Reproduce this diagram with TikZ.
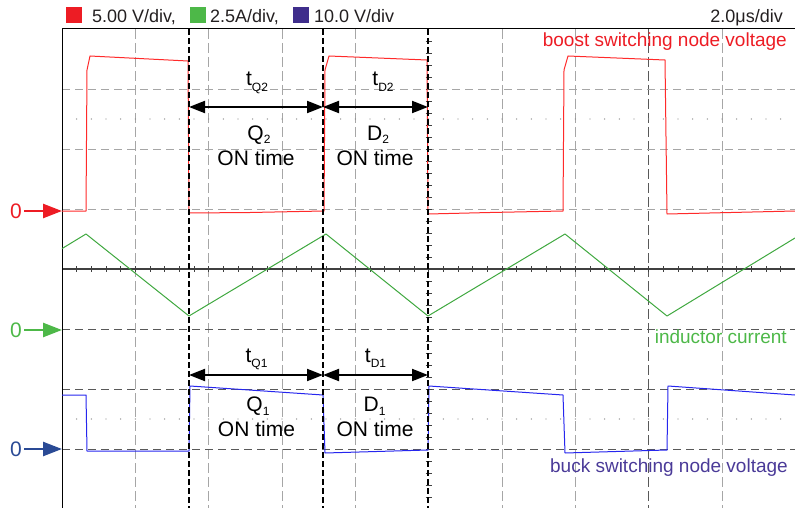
\documentclass[tikz,border=0pt]{standalone}
\usepackage{fontspec}
\setmainfont{Liberation Sans}
\usetikzlibrary{arrows.meta}
\definecolor{lgred}{HTML}{ED1C24}
\definecolor{lggreen}{HTML}{4DB848}
\definecolor{lgpurple}{HTML}{3F2E8C}
\definecolor{txpurple}{HTML}{4A3A98}
\definecolor{mkblue}{HTML}{2A4A95}
\definecolor{trred}{HTML}{FF2A2A}
\definecolor{trgreen}{HTML}{3FA83F}
\definecolor{trblue}{HTML}{2626EE}
\definecolor{txdark}{HTML}{231F20}
\newcommand\mysubfont{\fontsize{12}{12}\selectfont}
\begin{document}
\begin{tikzpicture}[x=1pt,y=-1pt,
  vgrid/.style={draw=black!35, line width=0.9pt, dash pattern=on 10pt off 4pt},
  vgriddark/.style={draw=black!65, line width=0.9pt, dash pattern=on 10pt off 4pt},
  hgrid/.style={draw=black!35, line width=0.9pt, dash pattern=on 8pt off 5pt},
  hgriddark/.style={draw=black!65, line width=1pt, dash pattern=on 8pt off 5pt},
  tdash/.style={draw=black, line width=2pt, dash pattern=on 6pt off 3pt},
  dimarrow/.style={draw=black, line width=2pt, {Triangle[length=16pt,width=12pt]}-{Triangle[length=16pt,width=12pt]}},
  zeroarrow/.style={line width=2.5pt, -{Triangle[length=19pt,width=14pt]}},
  legtext/.style={font=\fontsize{18}{20}\selectfont, text=txdark, anchor=base west, inner sep=0pt},
  tracelbl/.style={font=\fontsize{19}{22}\selectfont, anchor=base east, inner sep=0pt},
  lbl/.style={font=\fontsize{21}{24}\selectfont, text=black, anchor=base, inner sep=0pt},
  zerolbl/.style={font=\fontsize{21}{23}\selectfont, anchor=west, inner sep=2pt},
  trace/.style={line width=1pt, line join=round}
]
\useasboundingbox (0,0) rectangle (795,508);

% grid
\foreach \x in {135.33,208.67,282,355.33,502,575.33,722}
  \draw[vgrid] (\x,29) -- (\x,508);
\draw[vgriddark] (648.67,29) -- (648.67,508);
\foreach \y in {89,149,209}
  \draw[hgrid] (62,\y) -- (795,\y);
\foreach \y in {329,389,449}
  \draw[hgriddark] (62,\y) -- (795,\y);
% dotted rows
\foreach \k in {1,...,49} {
  \fill[black!45] ({62+\k*14.667},119) circle (0.7);
  \fill[black!45] ({62+\k*14.667},419) circle (0.7);
}
% center axes with ticks
\draw[black!75, line width=1.1pt] (62,269) -- (795,269);
\foreach \k in {1,...,49}
  \draw[black!75, line width=0.9pt] ({62+\k*14.667},266) -- ++(0,6);
\foreach \k in {1,...,39}
  \draw[black!75, line width=0.9pt] (425.67,{29+\k*12}) -- ++(6,0);

% frame
\draw[black, line width=1pt] (62,508) -- (62,29) -- (795,29);

% traces
\draw[trace, trred] (62,211) -- (86,211) -- (87,70) -- (90,56) -- (188,61) -- (189,213)
  -- (250,212.5) -- (324,211) -- (325,70) -- (329,56) -- (427,60) -- (428,214)
  -- (490,212.5) -- (563,211) -- (564,70) -- (568,56) -- (665,60) -- (667,214) -- (795,211);
\draw[trace, trgreen] (62,248.6) -- (86,234) -- (189,316) -- (326,234) -- (428,316)
  -- (565,234) -- (667,316) -- (795,238);
\draw[trace, trblue] (62,395) -- (86,395) -- (87,451) -- (189,451) -- (190,386)
  -- (323,395) -- (325,453) -- (428,450) -- (429,386) -- (563,395) -- (565,453)
  -- (667,450) -- (668,386) -- (795,395);

% thick dashed timing lines
\coordinate (d1t) at (189,29);  \coordinate (d1b) at (189,508);
\coordinate (d2t) at (323,29);  \coordinate (d2b) at (323,508);
\coordinate (d3t) at (428,29);  \coordinate (d3b) at (428,508);
\draw[tdash] (d1t) -- (d1b);
\draw[tdash] (d2t) -- (d2b);
\draw[tdash] (d3t) -- (d3b);

% dimension arrows
\coordinate (a1) at (189,107); \coordinate (a2) at (323,107); \coordinate (a3) at (428,107);
\coordinate (b1) at (189,375); \coordinate (b2) at (323,375); \coordinate (b3) at (428,375);
\draw[dimarrow] (a1) -- (a2);
\draw[dimarrow] (a2) -- (a3);
\draw[dimarrow] (b1) -- (b2);
\draw[dimarrow] (b2) -- (b3);

% annotation labels
\node[lbl] (tq2) at (257,86) {t\raisebox{-6pt}{\mysubfont Q2}};
\node[lbl] (td2) at (383,86) {t\raisebox{-6pt}{\mysubfont D2}};
\node[lbl] (q2) at (259,140) {Q\raisebox{-4pt}{\mysubfont 2}};
\node[lbl] (d2) at (378,140) {D\raisebox{-4pt}{\mysubfont 2}};
\node[lbl] (on1) at (256,165) {ON time};
\node[lbl] (on2) at (375,165) {ON time};
\node[lbl] (tq1) at (256.5,362) {t\raisebox{-5pt}{\mysubfont Q1}};
\node[lbl] (td1) at (375.5,362) {t\raisebox{-5pt}{\mysubfont D1}};
\node[lbl] (q1) at (258,411) {Q\raisebox{-4pt}{\mysubfont 1}};
\node[lbl] (d1) at (374.5,411) {D\raisebox{-4pt}{\mysubfont 1}};
\node[lbl] (on3) at (256.5,436) {ON time};
\node[lbl] (on4) at (375,436) {ON time};

% trace labels
\node[tracelbl, text=lgred] (boostlbl) at (787,47) {boost switching node voltage};
\node[tracelbl, text=lggreen] (indlbl) at (787,343) {inductor current};
\node[tracelbl, text=txpurple] (bucklbl) at (788,472) {buck switching node voltage};

% legend
\fill[lgred] (66,7) rectangle (82,23);
\node[legtext] (leg1) at (92,23) {5.00 V/div,};
\fill[lggreen] (190,7) rectangle (206,23);
\node[legtext] (leg2) at (210,23) {2.5A/div,};
\fill[lgpurple] (293,7) rectangle (309,23);
\node[legtext] (leg3) at (314,23) {10.0 V/div};
\node[legtext, anchor=base east] (tdiv) at (783,23) {2.0μs/div};

% zero markers
\node[zerolbl, text=lgred] (z1) at (8,211) {0};
\coordinate (z1t) at (62,211);
\draw[zeroarrow, lgred] (z1) -- (z1t);
\node[zerolbl, text=lggreen] (z2) at (8,330) {0};
\coordinate (z2t) at (62,330);
\draw[zeroarrow, lggreen] (z2) -- (z2t);
\node[zerolbl, text=mkblue] (z3) at (8,449) {0};
\coordinate (z3t) at (62,449);
\draw[zeroarrow, mkblue] (z3) -- (z3t);
\end{tikzpicture}
\end{document}
